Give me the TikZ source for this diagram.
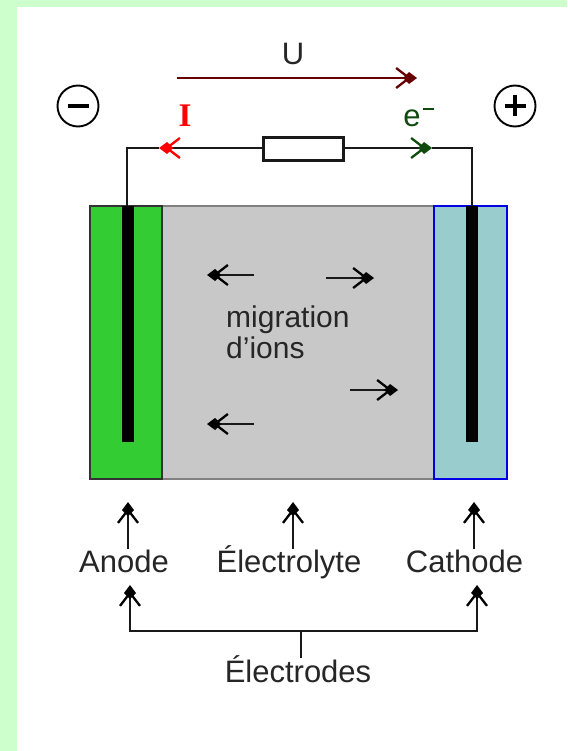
\documentclass[tikz,border=0pt]{standalone}
\usepackage{fontspec}
\setmainfont{Liberation Sans}
\newfontfamily\slabfont{Liberation Serif}
\usetikzlibrary{arrows.meta}
\definecolor{pagegreen}{HTML}{CCFFCC}
\definecolor{anodegreen}{HTML}{33CC33}
\definecolor{cathodeblue}{HTML}{99CCCC}
\definecolor{electrolytegray}{HTML}{C8C8C8}
\definecolor{udark}{HTML}{660000}
\definecolor{edark}{HTML}{0F4A0F}
\tikzset{
  barb/.style={-{Straight Barb[length=13pt,width=20pt,line width=2.3pt,color=#1,sep=-8pt]Kite[length=14pt,width=12pt,inset=6pt,color=#1]}},
  barb/.default=black,
  wire/.style={line width=2pt, black!90},
  lbl/.style={font=\fontsize{31}{31}\selectfont, inner sep=0pt, text=black!85, anchor=base},
  inner/.style={font=\fontsize{30}{30}\selectfont, inner sep=0pt, text=black!85, anchor=base west},
  sign/.style={circle, draw=black, line width=1.9pt, minimum size=41pt, inner sep=0pt},
  signbar/.style={line width=4pt},
  anchorpt/.style={inner sep=0pt, minimum size=0pt, anchor=north west}
}
\begin{document}
\begin{tikzpicture}[x=1pt,y=-1pt]
\useasboundingbox (0,0) rectangle (567,751);
\fill[pagegreen] (0,0) rectangle (567,751);
\fill[white] (17,7) rectangle (567,751);
% cell
\node[anchorpt, fill=electrolytegray, draw=black!50, line width=1.8pt, minimum width=272pt, minimum height=273pt] (elyte) at (161,205) {};
\node[anchorpt, fill=anodegreen, draw=black!80, line width=2pt, minimum width=72pt, minimum height=273pt] (anode) at (89,205) {};
\node[anchorpt, fill=cathodeblue, draw=blue!90!black, line width=2pt, minimum width=73pt, minimum height=273pt] (cathode) at (432.5,205) {};
\node[anchorpt, fill=black, minimum width=12pt, minimum height=236pt, anchor=north] (rodA) at (128,206) {};
\node[anchorpt, fill=black, minimum width=12pt, minimum height=236pt, anchor=north] (rodC) at (472,206) {};
% resistor and circuit
\node[anchorpt, draw=black!90, fill=white, line width=2.3pt, minimum width=80pt, minimum height=23pt, anchor=center] (res) at (303.5,149) {};
\coordinate (tl) at (127,148);
\coordinate (tr) at (472,148);
\coordinate (ia) at (159,148);
\coordinate (ea) at (432,148);
\draw[wire] (rodA.north -| tl) -- (tl) -- (ia);
\draw[wire] (rodC.north -| tr) -- (tr) -- (ea);
\draw[wire, barb=red] (res.west |- ia) -- (ia);
\draw[wire, barb=edark] (res.east |- ea) -- (ea);
% U
\coordinate (us) at (177,78);
\coordinate (ue) at (417,78);
\draw[line width=2.4pt, udark, barb=udark] (us) -- (ue);
\node[lbl] (U) at (293,65) {U};
\node[lbl, text=red, font=\fontsize{33}{33}\selectfont\slabfont\bfseries] (I) at (185,127) {I};
\node[lbl, text=edark] (e) at (412,127) {e};
\node[inner sep=0pt, fill=edark, minimum width=11pt, minimum height=2pt] (eminus) at (428,109) {};
% signs
\node[sign] (minus) at (78,106) {};
\draw[signbar] (minus.center) ++(-10.5,0) -- ++(21,0);
\node[sign] (plus) at (515,106) {};
\draw[signbar] (plus.center) ++(-10.5,0) -- ++(21,0) (plus.center) ++(0,-10.5) -- ++(0,21);
% migration
\coordinate (a1s) at (254,275); \coordinate (a1e) at (207,275);
\coordinate (a2s) at (326,278); \coordinate (a2e) at (374,278);
\coordinate (a3s) at (350,390); \coordinate (a3e) at (398,390);
\coordinate (a4s) at (254,424); \coordinate (a4e) at (207,424);
\draw[wire, barb] (a1s) -- (a1e);
\draw[wire, barb] (a2s) -- (a2e);
\draw[wire, barb] (a3s) -- (a3e);
\draw[wire, barb] (a4s) -- (a4e);
\node[inner] (mig) at (226,327) {migration};
\node[inner] (ions) at (226,358) {d'ions};
% labels
\node[lbl] (Anode) at (124,572) {Anode};
\node[lbl] (Elec) at (289,572) {Électrolyte};
\node[lbl] (Cath) at (464.5,572) {Cathode};
\node[lbl] (Electrodes) at (298,682) {Électrodes};
\coordinate (as) at (128,549); \coordinate (ae) at (128,502);
\coordinate (es) at (293,549); \coordinate (ee) at (293,502);
\coordinate (cs) at (474,549); \coordinate (ce) at (474,502);
\draw[wire, barb] (as) -- (ae);
\draw[wire, barb] (es) -- (ee);
\draw[wire, barb] (cs) -- (ce);
\coordinate (jl) at (130,631);
\coordinate (jr) at (477,631);
\coordinate (jm) at (301,631);
\coordinate (jlt) at (130,585);
\coordinate (jrt) at (477,585);
\coordinate (jb) at (301,658);
\draw[wire, line cap=rect] (jl) -- (jr);
\draw[wire, barb] (jl) -- (jlt);
\draw[wire, barb] (jr) -- (jrt);
\draw[wire] (jm) -- (jb);
\end{tikzpicture}
\end{document}
